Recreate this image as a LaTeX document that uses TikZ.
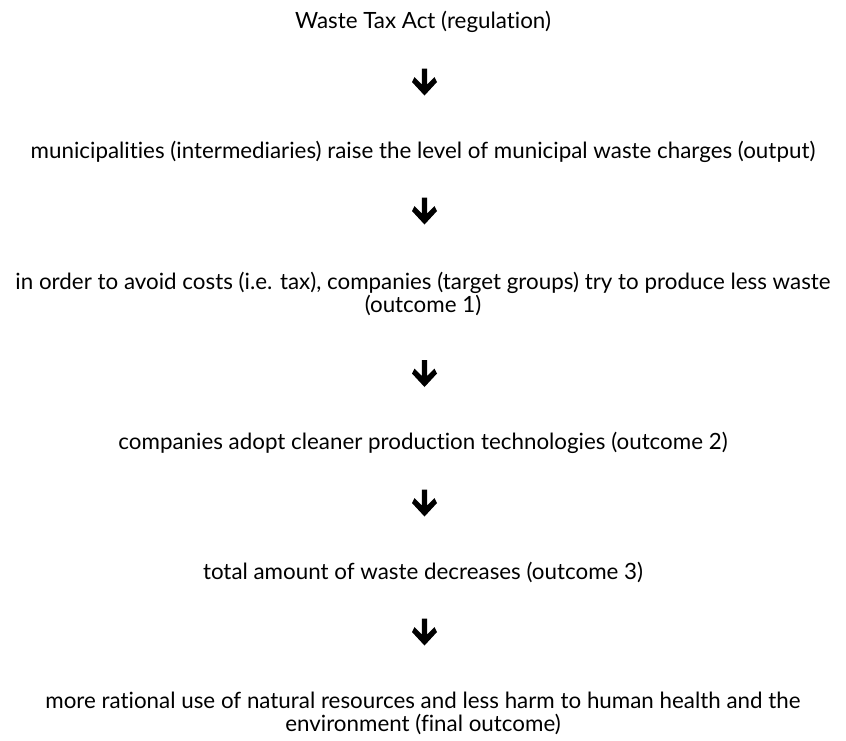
\documentclass[tikz,border=0pt]{standalone}
\usepackage{fontspec}
\setmainfont{Lato}[Ligatures={NoCommon,NoRare}]
\usetikzlibrary{calc}
\newlength\refwidth
\newcommand\linethree{in order to avoid costs (i.e. tax), companies (target groups) try to produce less waste}
\AtBeginDocument{%
  \settowidth\refwidth{\fontsize{10pt}{12pt}\selectfont\linethree}%
  \pgfmathsetmacro\fsx{10*815/\refwidth}%
  \global\let\fs\fsx}
\begin{document}
\begin{tikzpicture}[x=1pt,y=-1pt]
\tikzset{
  lbl/.style={font=\fontsize{\fs pt}{23pt}\selectfont, align=center, inner sep=0pt, text=black},
  dnarrow/.pic={\fill[black] (-2.6,-13.5) -- (2.6,-13.5) -- (2.6,2.5) -- (10,-4.9) -- (12.5,0) -- (0,13.5) -- (-12.5,0) -- (-10,-4.9) -- (-2.6,2.5) -- cycle;}
}
\useasboundingbox (0,0) rectangle (846,740);
\node[lbl] (t1) at (423,22) {Waste Tax Act (regulation)};
\node[lbl] (t2) at (423,152) {municipalities (intermediaries) raise the level of municipal waste charges (output)};
\node[lbl] (t3) at (423,293.5) {\linethree\\(outcome 1)};
\node[lbl] (t4) at (423,443) {companies adopt cleaner production technologies (outcome 2)};
\node[lbl] (t5) at (423,572) {total amount of waste decreases (outcome 3)};
\node[lbl] (t6) at (423,713.5) {more rational use of natural resources and less harm to human health and the\\environment (final outcome)};
\pic at ($(t1.center)+(1.5,60)$) {dnarrow};
\pic at ($(t2.center)+(1.5,59)$) {dnarrow};
\pic at ($(t3.center)+(1.5,80)$) {dnarrow};
\pic at ($(t4.center)+(1.5,60)$) {dnarrow};
\pic at ($(t5.center)+(1.5,60)$) {dnarrow};
\end{tikzpicture}
\end{document}
